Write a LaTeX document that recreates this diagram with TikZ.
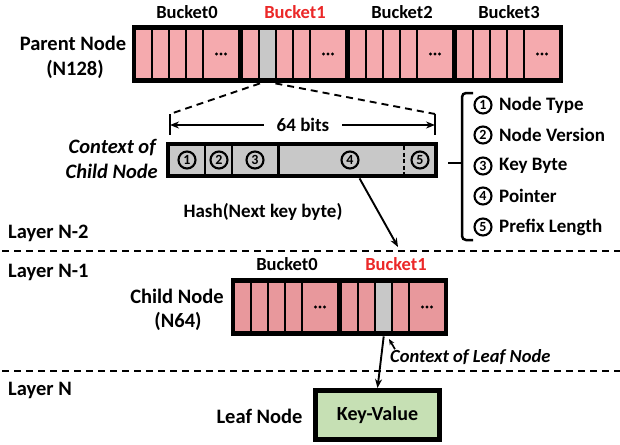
\documentclass[tikz,border=0pt]{standalone}
\usepackage{fontspec}
\setmainfont{Carlito}
\usetikzlibrary{arrows.meta,calc}
\definecolor{pinkA}{RGB}{245,170,174}
\definecolor{pinkB}{RGB}{232,152,156}
\definecolor{cellgray}{RGB}{200,200,200}
\definecolor{kvgreen}{RGB}{198,224,180}
\definecolor{bred}{RGB}{235,40,40}
\begin{document}
\begin{tikzpicture}[x=1pt,y=-1pt,
  lbl/.style={font=\fontsize{19}{22}\selectfont\bfseries, inner sep=0pt},
  biglbl/.style={font=\fontsize{20.5}{23}\selectfont\bfseries, inner sep=0pt},
  bklbl/.style={font=\fontsize{18.5}{22}\selectfont\bfseries, inner sep=0pt},
  ilbl/.style={font=\fontsize{20.5}{23}\selectfont\bfseries\itshape, inner sep=0pt},
  silbl/.style={font=\fontsize{18.5}{22}\selectfont\bfseries\itshape, inner sep=0pt},
  cnum/.style={circle, draw, line width=2.1pt, minimum size=17pt, inner sep=0pt, font=\fontsize{14}{14}\selectfont\bfseries},
  dashline/.style={dash pattern=on 7pt off 5pt, line width=1.9pt},
  arr/.style={-{Stealth[length=9pt,width=7pt]}, line width=1.9pt},
  smallarr/.style={-{Stealth[length=6pt,width=5pt]}, line width=1.7pt},
  blackbox/.style={fill=black, inner sep=0pt, anchor=north west},
  cellnode/.style={inner sep=0pt, anchor=north west, minimum width=15pt, minimum height=48pt},
]
\path[use as bounding box] (0,0) rectangle (620,444);

% ---------- Parent node ----------
\node[blackbox, minimum width=431pt, minimum height=58pt] (parent) at (132,25) {};
\foreach \b in {0,...,3}{
  \foreach \o in {0,17,34,51}{
    \fill[pinkA] (136+107*\b+\o,30) rectangle ++(15,48);
  }
  \fill[pinkA] (136+107*\b+68,30) rectangle ++(34,48);
  \foreach \d in {-4.5,0,4.5}{
    \fill (136+107*\b+85+\d,54) circle (1.7pt);
  }
}
\node[cellnode, fill=cellgray] (pgray) at (260,30) {};

\node[bklbl] (pb0) at (187,12) {Bucket0};
\node[bklbl, text=bred] (pb1) at (295,12) {Bucket1};
\node[bklbl] (pb2) at (402,12) {Bucket2};
\node[bklbl] (pb3) at (509,12) {Bucket3};

\node[biglbl] (pn1) at (73,43) {Parent Node};
\node[biglbl] (pn2) at (75,69) {(N128)};

% ---------- 64 bits ----------
\coordinate (tlt) at (170,114);
\coordinate (tlb) at (170,135);
\coordinate (trt) at (435,114);
\coordinate (trb) at (435,135);
\coordinate (tl) at (170,125);
\coordinate (tr) at (435,125);
\draw[line width=1.7pt] (tlt) -- (tlb);
\draw[line width=1.7pt] (trt) -- (trb);
\node[lbl, inner xsep=13pt] (bits) at (303,125) {64 bits};
\draw[arr] (bits) -- (tl);
\draw[arr] (bits) -- (tr);
\draw[dashline] (pgray.west |- parent.south) -- (tlt);
\draw[dashline] (pgray.east |- parent.south) -- (trt);

% ---------- Context of child node ----------
\node[blackbox, minimum width=272pt, minimum height=36pt] (ctx) at (166,142) {};
\fill[cellgray] (170,146) rectangle (434,174);
\fill[black] (204,146) rectangle (206,174);
\fill[black] (230.5,146) rectangle (232.5,174);
\fill[black] (277,146) rectangle (279.5,174);
\draw[line width=2pt, dash pattern=on 4pt off 2.5pt] (404,146) -- (404,174);
\node[cnum] (c1) at (187,160) {1};
\node[cnum] (c2) at (219,160) {2};
\node[cnum] (c3) at (255,160) {3};
\node[cnum] (c4) at (350,160) {4};
\node[cnum] (c5) at (420,160) {5};

\node[ilbl, anchor=east] (cx1) at (156,148) {Context of};
\node[ilbl, anchor=east] (cx2) at (158,171) {Child Node};

% ---------- Brace and legend ----------
\draw[line width=2.5pt, rounded corners=4pt] (473,93) -- (462,93) -- (462,240) -- (473,240);
\draw[line width=2.5pt] (462,163) -- (448,163);
\foreach \i/\t/\y in {1/Node Type/105, 2/Node Version/135, 3/Key Byte/166, 4/Pointer/196, 5/Prefix Length/227}{
  \node[cnum] (l\i) at (483,\y) {\i};
  \node[lbl, anchor=west] (lt\i) at (499,\y) {\t};
}

% ---------- Hash arrow ----------
\coordinate (hashtip) at (398,247);
\draw[arr] (ctx.south -| c4.east) -- (hashtip);
\node[lbl] (hash) at (263,212) {Hash(Next key byte)};

% ---------- Layers ----------
\node[biglbl, anchor=west] (ln2) at (8,233) {Layer N-2};
\node[biglbl, anchor=west] (ln1) at (8,272) {Layer N-1};
\node[biglbl, anchor=west] (ln0) at (8,390) {Layer N};
\coordinate (d1l) at (2,251);
\coordinate (d1r) at (620,251);
\coordinate (d2l) at (2,371);
\coordinate (d2r) at (620,371);
\draw[dashline] (d1l) -- (d1r);
\draw[dashline] (d2l) -- (d2r);

% ---------- Child node ----------
\node[blackbox, minimum width=217pt, minimum height=58pt] (child) at (231,278) {};
\foreach \b in {0,1}{
  \foreach \o in {0,17,34,51}{
    \fill[pinkB] (235+107*\b+\o,283) rectangle ++(15,48);
  }
  \fill[pinkB] (235+107*\b+68,283) rectangle ++(34,48);
  \foreach \d in {-4.5,0,4.5}{
    \fill (235+107*\b+85+\d,307) circle (1.7pt);
  }
}
\node[cellnode, fill=cellgray] (cgray) at (376,283) {};

\node[bklbl] (cb0) at (287,264) {Bucket0};
\node[bklbl, text=bred] (cb1) at (396,264) {Bucket1};
\node[biglbl] (cn1) at (177,296) {Child Node};
\node[biglbl] (cn2) at (178,321) {(N64)};

% ---------- Leaf ----------
\node[draw=black, line width=5pt, fill=kvgreen, minimum width=124pt, minimum height=49pt,
      font=\fontsize{20}{23}\selectfont\bfseries, inner sep=0pt] (kv) at (377.5,415) {Key-Value};
\node[biglbl] (leaf) at (259.5,416) {Leaf Node};
\draw[arr] (cgray.south |- child.south) -- (kv.north);

\node[silbl, anchor=west] (ctxleaf) at (390,357) {Context of Leaf Node};
\coordinate (leafpt) at (389,339);
\draw[smallarr] ([xshift=5pt]ctxleaf.north west) -- (leafpt);
\end{tikzpicture}
\end{document}
